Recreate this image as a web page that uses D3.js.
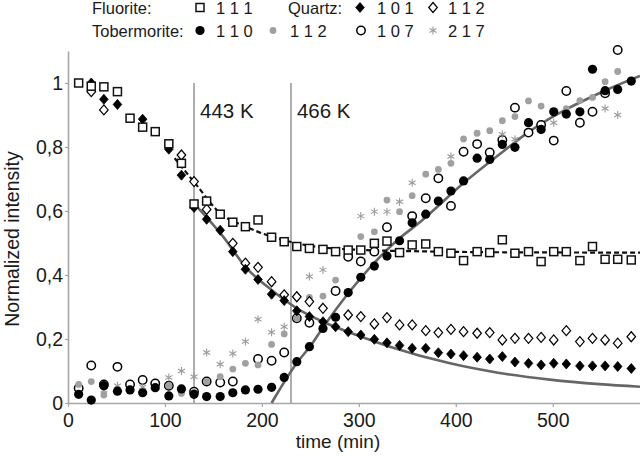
<!DOCTYPE html>
<html>
<head>
<meta charset="utf-8">
<script src="https://cdn.jsdelivr.net/npm/d3@7"></script>
<style>
  html, body { margin: 0; padding: 0; background: #fff; }
  svg { display: block; font-family: "Liberation Sans", Arial, sans-serif; }
</style>
</head>
<body>
<script>
// ---------- data ----------
const times = [11,24,37,51,64,77,90,104,117,130,143,157,170,183,196,210,223,236,249,263,276,289,302,316,329,342,355,369,382,395,408,422,435,448,461,475,488,501,514,528,541,554,567,581];

const fluorite111 = [1.0,0.99,0.988,0.973,0.89,0.862,0.848,0.81,0.749,0.622,0.631,0.59,0.565,0.551,0.572,0.518,0.504,0.489,0.483,0.48,0.473,0.478,0.478,0.499,0.506,0.47,0.494,0.497,0.473,0.468,0.445,0.473,0.47,0.51,0.468,0.473,0.442,0.473,0.473,0.445,0.489,0.449,0.449,0.447];

const quartz101 = [null,1.0,0.949,0.933,null,0.887,null,0.793,0.712,0.611,0.574,0.54,0.473,0.418,0.386,0.34,0.32,0.288,0.27,0.254,0.238,0.223,0.2125,0.199,0.188,0.18,0.171,0.171,0.157,0.153,0.148,0.143,0.1375,0.145,0.128,0.124,0.119,0.124,0.122,0.116,0.116,0.116,0.114,0.108];

const quartz112 = [null,0.973,0.916,null,null,null,null,null,0.775,0.692,0.605,null,0.499,0.437,0.424,0.379,0.338,0.332,0.317,0.296,null,0.275,0.27,0.247,0.267,0.244,0.244,0.226,0.22,0.23,0.223,0.218,0.22,0.197,0.202,0.202,0.205,0.197,0.226,0.192,0.202,0.197,0.187,0.207];

const tob110 = [0.027,0.009,0.054,0.037,0.041,0.032,0.048,0.022,0.044,0.027,0.02,0.02,0.032,0.041,0.043,0.049,0.08,0.129,0.176,0.233,0.268,0.345,0.393,0.428,0.459,0.507,0.563,0.59,0.631,0.6625,0.694,0.765,0.761,0.808,0.799,0.876,0.855,0.91,0.903,0.91,1.043,0.976,0.98,1.006];

const tob112 = [0.058,0.067,0.025,null,null,null,null,0.054,0.03,0.033,0.067,0.082,0.106,0.124,0.119,0.183,0.216,0.265,0.33,0.334,0.384,null,0.52,0.535,0.634,0.598,0.648,0.715,0.73,0.749,0.825,0.843,0.851,0.882,0.895,0.944,0.928,null,0.92,0.945,0.955,1.004,1.036,null];

const tob107 = [0.046,0.117,0.058,0.113,0.058,0.072,0.061,0.054,null,0.035,0.067,0.064,0.067,null,0.1375,0.132,0.158,0.265,0.251,null,0.35,0.457,0.442,0.473,0.549,null,0.584,0.64,0.702,0.616,0.785,0.809,0.783,0.822,0.923,0.845,0.869,0.82,0.975,0.876,0.91,0.968,1.103,null];

const tob217 = [null,null,0.04,0.054,null,0.05,null,0.08,0.1,0.082,0.158,0.121,0.155,0.192,0.262,0.221,0.238,null,0.395,0.416,null,null,0.584,0.598,0.598,0.629,0.688,null,null,0.77,null,null,null,0.84,0.824,null,null,0.876,null,null,null,0.92,0.9,null];

// fitted curves as (time, value) pairs
const fluoriteFitT = [110,131,157,183.5,210,244,290,363,450,590];
const fluoriteFitV = [0.765,0.687,0.593,0.551,0.52,0.494,0.48,0.474,0.471,0.47];
const quartzFitT = [131,160,183.5,210,236,263,297.6,332,394,445,497,548,590];
const quartzFitV = [0.62,0.52,0.424,0.353,0.296,0.254,0.2125,0.176,0.124,0.094,0.073,0.059,0.051];
const tobFitT = [210,236,250,263,291,342,361,411,456,471,548,590];
const tobFitV = [0,0.125,0.178,0.236,0.35,0.515,0.56,0.695,0.803,0.838,0.968,1.022];

const tempLines = [130, 230];
const tempLabels = ["443 K", "466 K"];

const xTicks = [0,100,200,300,400,500];
const yTicks = [0,0.2,0.4,0.6,0.8,1];

// ---------- chart ----------
const W = 640, H = 456;
const svg = d3.select("body").append("svg").attr("width", W).attr("height", H);

const x = d3.scaleLinear().domain([0, 590]).range([68, 640]);
const y = d3.scaleLinear().domain([0, 1.1]).range([403, 51]);

const axisColor = "#a6a6a6";
const textColor = "#1a1a1a";

// axes
const gx = svg.append("g").attr("transform", `translate(0,${y(0)})`)
  .call(d3.axisBottom(x).tickValues(xTicks).tickSize(4).tickSizeOuter(0).tickPadding(6.5).tickFormat(d => d));
const gy = svg.append("g").attr("transform", `translate(${x(0)},0)`)
  .call(d3.axisLeft(y).tickValues(yTicks).tickSize(3).tickSizeOuter(0).tickPadding(2)
    .tickFormat(d => (d === 0 ? "0" : d === 1 ? "1" : d.toFixed(1).replace(".", ","))));
[gx, gy].forEach(g => {
  g.select(".domain").attr("stroke", axisColor).attr("stroke-width", 1.6);
  g.selectAll(".tick line").attr("stroke", axisColor).attr("stroke-width", 1.2);
  g.selectAll(".tick text").attr("fill", textColor).style("font-size", "19.5px")
    .style("font-family", '"Liberation Sans", Arial, sans-serif');
});

// axis titles
svg.append("text").attr("x", 338).attr("y", 448).attr("text-anchor", "middle")
  .attr("fill", textColor).style("font-size", "19px").text("time (min)");
svg.append("text").attr("transform", "translate(19,239) rotate(-90)").attr("text-anchor", "middle")
  .attr("fill", textColor).style("font-size", "19.5px").text("Normalized intensity");

// temperature lines
tempLines.forEach((t, i) => {
  svg.append("line").attr("x1", x(t)).attr("x2", x(t)).attr("y1", y(1)).attr("y2", y(0))
    .attr("stroke", "#9a9a9a").attr("stroke-width", 1.6);
  svg.append("text").attr("x", x(t) + 6).attr("y", 118).attr("fill", textColor)
    .style("font-size", "20.5px").text(tempLabels[i]);
});

// fit curves
const lineGen = d3.line().x(d => x(d[0])).y(d => y(d[1])).curve(d3.curveMonotoneX);
svg.append("path").datum(quartzFitT.map((t, i) => [t, quartzFitV[i]]))
  .attr("d", lineGen).attr("fill", "none").attr("stroke", "#666").attr("stroke-width", 2.6);
svg.append("path").datum(tobFitT.map((t, i) => [t, tobFitV[i]]))
  .attr("d", lineGen).attr("fill", "none").attr("stroke", "#666").attr("stroke-width", 2.6);
svg.append("path").datum(fluoriteFitT.map((t, i) => [t, fluoriteFitV[i]]))
  .attr("d", lineGen).attr("fill", "none").attr("stroke", "#111").attr("stroke-width", 2.2)
  .attr("stroke-dasharray", "5,3");

// marker drawers
function drawMarker(g, kind, cx, cy) {
  if (kind === "square") {
    g.append("rect").attr("x", cx - 4).attr("y", cy - 4).attr("width", 8).attr("height", 8)
      .attr("fill", "#fff").attr("stroke", "#111").attr("stroke-width", 1.5);
  } else if (kind === "diamondFilled" || kind === "diamondOpen") {
    const p = `M${cx},${cy - 5}L${cx + 4.3},${cy}L${cx},${cy + 5}L${cx - 4.3},${cy}Z`;
    g.append("path").attr("d", p)
      .attr("fill", kind === "diamondFilled" ? "#000" : "#fff")
      .attr("stroke", "#000").attr("stroke-width", kind === "diamondFilled" ? 0.8 : 1.2);
  } else if (kind === "circleFilled") {
    g.append("circle").attr("cx", cx).attr("cy", cy).attr("r", 4.6).attr("fill", "#000");
  } else if (kind === "circleOpen") {
    g.append("circle").attr("cx", cx).attr("cy", cy).attr("r", 4.2).attr("fill", "#fff")
      .attr("stroke", "#000").attr("stroke-width", 1.5);
  } else if (kind === "circleGray") {
    g.append("circle").attr("cx", cx).attr("cy", cy).attr("r", 3.4).attr("fill", "#a0a0a0");
  } else if (kind === "asterisk") {
    const r = 4;
    [90, 30, 150].forEach(a => {
      const rad = a * Math.PI / 180;
      g.append("line").attr("x1", cx - r * Math.cos(rad)).attr("y1", cy - r * Math.sin(rad))
        .attr("x2", cx + r * Math.cos(rad)).attr("y2", cy + r * Math.sin(rad))
        .attr("stroke", "#9a9a9a").attr("stroke-width", 1.1);
    });
  }
}

const seriesList = [
  { vals: tob107, kind: "circleOpen" },
  { vals: tob112, kind: "circleGray" },
  { vals: tob217, kind: "asterisk" },
  { vals: tob110, kind: "circleFilled" },
  { vals: quartz112, kind: "diamondOpen" },
  { vals: quartz101, kind: "diamondFilled" },
  { vals: fluorite111, kind: "square" }
];
seriesList.forEach(s => {
  const g = svg.append("g");
  s.vals.forEach((v, i) => {
    if (v === null) return;
    drawMarker(g, s.kind, x(times[i]), y(v));
  });
});

// legend
const lg = svg.append("g").style("font-size", "16.5px").attr("fill", textColor);
const legendRows = [
  { title: "Fluorite:", ty: 13.5, items: [["square", 200, "1 1 1", 216]] },
  { title: "Quartz:", ty: 13.5, tx: 288, items: [["diamondFilled", 360, "1 0 1", 377], ["diamondOpen", 433, "1 1 2", 448]] },
  { title: "Tobermorite:", ty: 36.5, items: [["circleFilled", 200, "1 1 0", 216], ["circleGray", 273, "1 1 2", 290], ["circleOpen", 361, "1 0 7", 377], ["asterisk", 433, "2 1 7", 448]] }
];
legendRows.forEach(row => {
  lg.append("text").attr("x", row.tx || 92).attr("y", row.ty).text(row.title);
  row.items.forEach(it => {
    drawMarker(lg, it[0], it[1], row.ty - 6);
    lg.append("text").attr("x", it[3]).attr("y", row.ty).text(it[2]);
  });
});
</script>
</body>
</html>
